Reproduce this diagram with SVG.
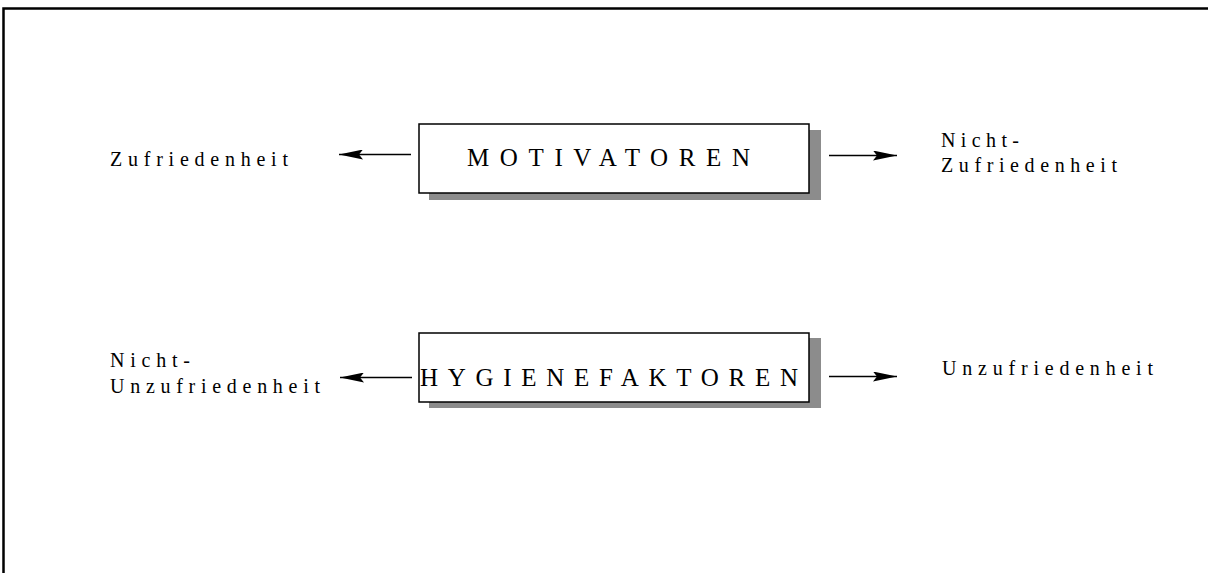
<svg xmlns="http://www.w3.org/2000/svg" width="1208" height="573" viewBox="0 0 1208 573">
  <defs>
    <style>
      .frame { stroke: #000; stroke-width: 2.5; fill: none; }
      .shadow { fill: #8c8c8c; }
      .box { fill: #fff; stroke: #000; stroke-width: 1.5; }
      .title { font-family: "Liberation Serif", serif; font-size: 25px; fill: #000; }
      .label { font-family: "Liberation Serif", serif; font-size: 20px; fill: #000; }
      .conn { stroke: #000; stroke-width: 1.3; fill: none; marker-end: url(#head); }
    </style>
    <marker id="head" viewBox="0 0 24 10" refX="24" refY="5" markerWidth="24" markerHeight="10" markerUnits="userSpaceOnUse" orient="auto">
      <path d="M0,0 L24,5 L0,10 L4,5 Z" fill="#000"/>
    </marker>
  </defs>

  <rect width="1208" height="573" fill="#fff"/>

  <!-- outer frame: top and left edges -->
  <path class="frame" d="M3.5,573 L3.5,8.5 L1208,8.5"/>

  <g id="motivatoren">
    <rect class="shadow" x="429" y="130" width="392" height="70"/>
    <rect class="box" x="419" y="124" width="390" height="69"/>
    <text class="title" x="467" y="166" textLength="283" lengthAdjust="spacing">MOTIVATOREN</text>
  </g>

  <g id="hygienefaktoren">
    <rect class="shadow" x="429" y="338" width="392" height="70"/>
    <rect class="box" x="419" y="333" width="390" height="69"/>
    <text class="title" x="420" y="386" textLength="378" lengthAdjust="spacing">HYGIENEFAKTOREN</text>
  </g>

  <g id="zufriedenheit">
    <text class="label" x="110" y="166" textLength="178" lengthAdjust="spacing">Zufriedenheit</text>
  </g>

  <g id="nicht-zufriedenheit">
    <text class="label" x="941" y="147" textLength="78" lengthAdjust="spacing">Nicht-</text>
    <text class="label" x="941" y="172" textLength="176" lengthAdjust="spacing">Zufriedenheit</text>
  </g>

  <g id="nicht-unzufriedenheit">
    <text class="label" x="110" y="367" textLength="80" lengthAdjust="spacing">Nicht-</text>
    <text class="label" x="110" y="393" textLength="210" lengthAdjust="spacing">Unzufriedenheit</text>
  </g>

  <g id="unzufriedenheit">
    <text class="label" x="942" y="375" textLength="211" lengthAdjust="spacing">Unzufriedenheit</text>
  </g>

  <g id="connectors">
    <line class="conn" x1="411" y1="154.5" x2="339" y2="154.5"/>
    <line class="conn" x1="829" y1="155.5" x2="897" y2="155.5"/>
    <line class="conn" x1="412" y1="377.5" x2="340" y2="377.5"/>
    <line class="conn" x1="829" y1="376.5" x2="897" y2="376.5"/>
  </g>
</svg>
